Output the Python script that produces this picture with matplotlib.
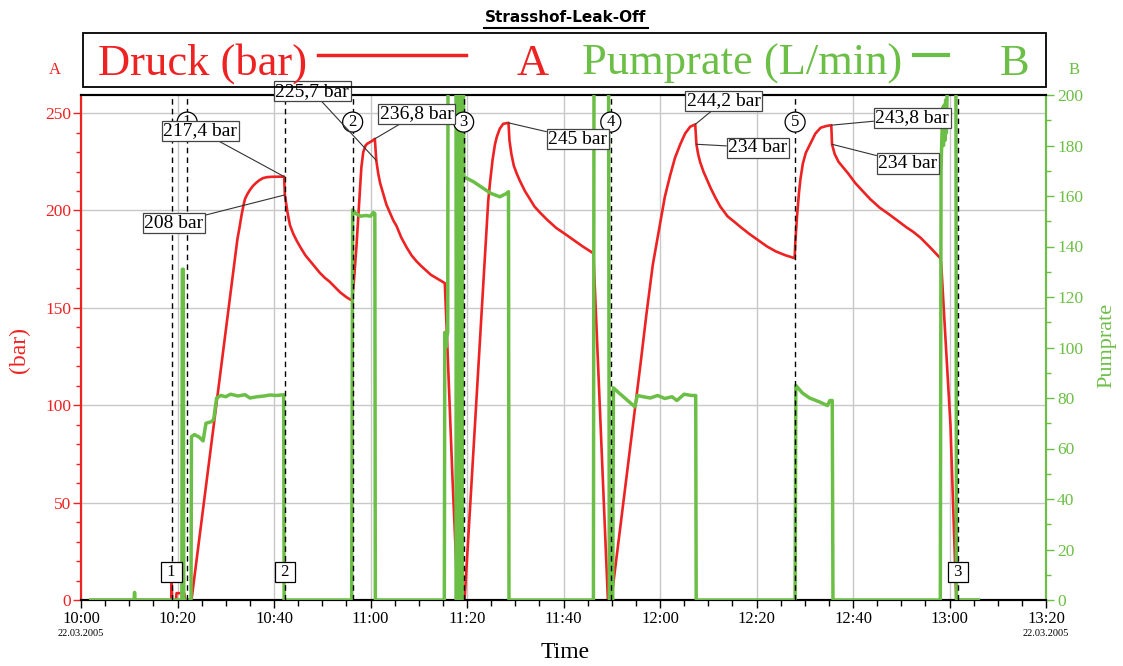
import matplotlib
matplotlib.use("Agg")
import matplotlib.pyplot as plt
from matplotlib.ticker import MultipleLocator, FuncFormatter
from matplotlib.patches import Rectangle
from matplotlib.lines import Line2D

# ---------------------------------------------------------------- data
# time in minutes after 10:00 on 22.03.2005
druck_t = [2, 18.7, 18.8, 18.9, 19.7, 19.8, 21.4, 21.6, 22.9,
           32.4, 32.9, 33.3, 33.7, 34.0, 34.5, 35.0, 35.6, 36.2, 37.0, 37.7,
           38.5, 39.5, 42.1,
           42.25, 42.8, 43.3, 44.0, 44.7, 45.5, 46.5, 47.5, 48.5, 49.5, 50.5,
           51.5, 52.5, 53.7, 55.0, 56.0,
           56.2, 56.6, 57.1, 57.5, 57.8, 58.1, 58.5, 59.0, 59.4, 60.2, 60.9,
           61.2, 61.6, 62.0, 62.7, 63.3, 64.0, 64.7, 65.4, 66.4, 67.5, 68.5,
           69.5, 70.5, 71.6, 72.5, 73.5, 74.5, 75.4,
           75.8, 77.0, 78.0, 78.2, 79.5,
           84.4, 84.8, 85.3, 85.8, 86.2, 86.8, 87.5, 88.6,
           88.8, 89.2, 89.7, 90.3, 91.0, 92.0, 93.0, 94.0, 95.1, 96.5, 98.5,
           100.0, 102.0, 104.0, 106.2,
           109.2, 109.9, 112.0, 114.0, 116.0, 117.2, 118.5, 120.0, 121.0,
           122.1, 123.1, 124.2, 125.2, 126.25, 127.3,
           127.55, 127.9, 128.3, 129.0, 129.7, 130.5, 131.5, 132.5, 134.0,
           135.5, 136.7, 138.5, 140.5, 142.2, 144.0, 146.0, 147.9,
           148.05, 148.4, 148.8, 149.1, 149.6, 150.2, 151.2, 152.2, 153.3,
           154.5, 155.5,
           155.65, 156.2, 157.0, 158.0, 159.0, 160.5, 162.0, 163.5, 165.5,
           167.5, 169.1, 171.0, 172.5, 174.0, 176.0, 178.1,
           178.3, 178.8, 180.2, 181.4, 186]
druck_bar = [0, 0, 9, 0, 0, 3.5, 3.5, 0, 0,
             185, 192, 198, 203, 206, 208.5, 210.5, 212.5, 214, 215.6, 216.6,
             217.1, 217.3, 217.4,
             208, 199, 192.5, 188, 184.5, 181, 177, 174, 171, 168, 165.5,
             163.5, 161, 158, 155.5, 154,
             154, 165, 182, 198, 210, 222, 230, 233.5, 234.4, 235.5, 236.8,
             225.7, 219, 214, 208, 203, 199, 195, 192, 186, 181, 177,
             174, 171.5, 169, 167, 165.5, 164, 162.7,
             138.6, 62, 5, 0, 0,
             205, 215, 226, 234, 238, 242, 244.5, 245,
             236, 229, 223, 219, 215, 210, 206, 202, 199, 195.5, 191,
             188.5, 185, 181.5, 178,
             0, 0, 42, 82, 122, 147, 172, 193, 207,
             218, 227, 234, 239.5, 243, 244.2,
             234, 229, 225, 220, 216, 211.5, 206.5, 202, 197,
             194, 191.5, 188, 184.5, 181.5, 179, 177, 175.5,
             184, 197, 209, 216, 224, 229.5, 234.5, 239.5, 242.5,
             243.4, 243.8,
             234, 229, 225, 222, 219, 214, 210, 206, 201.5,
             198, 195, 191.5, 189, 186, 181, 175.5,
             172, 150, 90, 0, 0]

pump_t = [2, 11.0, 11.1, 11.2, 20.9, 21.0, 21.2, 21.3, 22.8, 22.9, 23.5, 24.5,
          25.3, 25.9, 27.0, 27.5, 28.1, 29.0, 30.0, 31.0, 32.5, 34.0, 35.0,
          36.5, 38.0, 39.2, 40.5, 42.0, 42.1, 56.1, 56.3, 57.0, 58.0, 59.0,
          60.0, 60.6, 60.9, 61.0, 75.3, 75.4, 75.6, 75.8, 76.0, 76.1, 77.7,
          77.8, 77.95, 78.1, 78.25, 78.4, 78.55, 78.7, 78.85, 79.0, 79.15,
          79.35, 81.3, 83.4, 85.0, 86.8, 88.2, 88.6, 88.7, 106.2, 106.35,
          109.3, 109.5, 110.2, 110.35, 111.5, 113.0, 114.8, 115.3, 116.5,
          118.0, 119.5, 121.0, 122.5, 123.5, 125.0, 126.5, 127.4, 127.5,
          148.0, 148.15, 149.5, 151.0, 153.0, 154.7, 155.2, 155.7, 155.85,
          178.1, 178.25, 178.4, 178.6, 178.75, 178.9, 179.05, 179.2, 179.35,
          179.5, 179.6, 181.3, 181.45, 186]
pump_lpm = [0, 0, 3, 0, 0, 131, 131, 0, 0, 64.7, 65.5, 64.5,
            63, 70, 70.6, 71.5, 80, 81, 80.5, 81.5, 80.8, 81.3, 80,
            80.5, 80.8, 81.2, 81, 81.3, 0, 0, 154.5, 153, 152, 152.3,
            152, 153.5, 153, 0, 0, 106, 100, 104, 106, 260, 260,
            0, 260, 0, 260, 0, 260, 0, 260, 0, 260,
            167.6, 165.7, 163, 161, 159.7, 161, 161.7, 0, 0, 260,
            260, 0, 0, 84, 82, 79.5, 76.5, 81, 80.5,
            80, 81, 79.8, 80.5, 79, 81.5, 81, 81, 0,
            0, 85, 82, 80, 78.5, 77, 79, 79, 0,
            0, 170, 182, 195, 180, 196, 182, 198, 185,
            200, 260, 260, 0, 0]

# event markers
event_t = [18.8, 22.0, 42.3, 56.3, 79.3, 109.8, 148.0, 181.8]
circle_t = [22.0, 56.3, 79.3, 109.8, 148.0]
circle_labels = ["1", "2", "3", "4", "5"]
box_t = [18.8, 42.3, 181.8]
box_labels = ["1", "2", "3"]

# pressure readings called out on the curve
note_t = [42.1, 42.25, 61.2, 60.9, 88.6, 127.3, 127.55, 155.5, 155.65]
note_bar = [217.4, 208, 225.7, 236.8, 245, 244.2, 234, 243.8, 234]

# ---------------------------------------------------------------- style
RED = "#ee2222"
GREEN = "#6cbf46"
SERIF = ["Liberation Serif", "DejaVu Serif"]
plt.rcParams["font.family"] = SERIF

W, H = 1123, 666
fig = plt.figure(figsize=(W / 100, H / 100), dpi=100)


def fx(px):
    return px / W


def fy(py):
    return 1 - py / H


ax = fig.add_axes([fx(81), fy(600), fx(1046) - fx(81), fy(95) - fy(600)])
ax2 = ax.twinx()

ax.set_xlim(0, 200)
ax.set_ylim(0, 259.3)
ax2.set_ylim(0, 200)

# curves
ax.plot(druck_t, druck_bar, color=RED, lw=1.9, zorder=3, solid_joinstyle="round")
ax2.plot(pump_t, pump_lpm, color=GREEN, lw=2.5, zorder=3, solid_joinstyle="round")

# grid
ax.grid(True, which="major", color="#c8c8c8", lw=1.0)
ax.set_axisbelow(True)


def hhmm(m, pos=None):
    total = 600 + int(round(m))
    return f"{total // 60}:{total % 60:02d}"


ax.xaxis.set_major_locator(MultipleLocator(20))
ax.xaxis.set_minor_locator(MultipleLocator(5))
ax.xaxis.set_major_formatter(FuncFormatter(hhmm))
ax.yaxis.set_major_locator(MultipleLocator(50))
ax.yaxis.set_minor_locator(MultipleLocator(10))
ax2.yaxis.set_major_locator(MultipleLocator(20))
ax2.yaxis.set_minor_locator(MultipleLocator(10))

ax.tick_params(axis="x", which="major", direction="out", length=6, width=1,
               labelsize=12, pad=2, colors="black")
ax.tick_params(axis="x", which="minor", direction="out", length=4, width=1)
ax.tick_params(axis="y", which="major", direction="out", length=6, width=1,
               labelsize=12.5, pad=1, colors=RED)
ax.tick_params(axis="y", which="minor", direction="out", length=3.5, width=1,
               colors=RED)
ax2.tick_params(axis="y", which="major", direction="out", length=6, width=1,
                labelsize=12.5, pad=2, colors=GREEN)
ax2.tick_params(axis="y", which="minor", direction="out", length=3.5, width=1,
                colors=GREEN)

for a in (ax, ax2):
    a.spines["left"].set_color(RED)
    a.spines["right"].set_color(GREEN)
    a.spines["bottom"].set_color("black")
    a.spines["top"].set_color("black")
    for s in a.spines.values():
        s.set_linewidth(1.5)

# event markers
for t in event_t:
    ax2.axvline(t, color="black", lw=1.0, ls=(0, (4, 3)), zorder=5)

for t, lab in zip(circle_t, circle_labels):
    ax2.text(t, 245.4, lab, transform=ax.transData, ha="center", va="center",
             fontsize=12, zorder=7,
             bbox=dict(boxstyle="circle,pad=0.12", fc="white", ec="black", lw=0.9))

for t, lab in zip(box_t, box_labels):
    ax2.text(t, 14.4, f" {lab} ", transform=ax.transData, ha="center",
             va="center", fontsize=12, zorder=7,
             bbox=dict(boxstyle="square,pad=0.12", fc="white", ec="black", lw=0.9))

# callouts
note_pos = [(24.7, 240.8), (19.2, 193.5), (47.9, 261.3), (69.6, 249.5),
            (103.0, 236.7), (133.2, 256.2), (140.3, 232.3), (172.3, 247.7),
            (171.4, 224.1)]
for t, v, (tx, ty) in zip(note_t, note_bar, note_pos):
    txt = f"{v:g}".replace(".", ",") + " bar"
    ax2.annotate(txt, xy=(t, v), xycoords=ax.transData,
                 xytext=(tx, ty), textcoords=ax.transData,
                 ha="center", va="center", fontsize=14, zorder=8,
                 annotation_clip=False,
                 bbox=dict(boxstyle="square,pad=0.08", fc="white", ec="#444444", lw=0.9),
                 arrowprops=dict(arrowstyle="-", color="#333333", lw=0.8,
                                 shrinkA=0, shrinkB=0))

# ---------------------------------------------------------------- frame texts
fig.text(fx(566), fy(18), "Strasshof-Leak-Off", ha="center", va="center",
         fontsize=11, fontweight="bold",
         family=["Liberation Sans Narrow", "DejaVu Sans"])
fig.add_artist(Line2D([fx(484), fx(648)], [fy(28), fy(28)], color="black", lw=1.5))

# legend panel
fig.add_artist(Rectangle((fx(83), fy(87)), fx(1046) - fx(83), fy(33) - fy(87),
                         fill=False, ec="black", lw=1.3))
fig.text(fx(98), fy(75), "Druck (bar)", color=RED, fontsize=32, ha="left",
         va="baseline")
fig.add_artist(Line2D([fx(318), fx(466)], [fy(55), fy(55)], color=RED, lw=2.5))
fig.text(fx(533), fy(75), "A", color=RED, fontsize=32, ha="center", va="baseline")
fig.text(fx(582), fy(75), "Pumprate (L/min)", color=GREEN, fontsize=32,
         ha="left", va="baseline")
fig.add_artist(Line2D([fx(914), fx(948)], [fy(55), fy(55)], color=GREEN, lw=3))
fig.text(fx(1015), fy(75), "B", color=GREEN, fontsize=32, ha="center",
         va="baseline")

fig.text(fx(55), fy(70), "A", color=RED, fontsize=12, ha="center", va="center")
fig.text(fx(1074), fy(70), "B", color=GREEN, fontsize=12, ha="center", va="center")

fig.text(fx(19), fy(350), "(bar)", color=RED, fontsize=17, rotation=90,
         ha="center", va="center")
fig.text(fx(1107), fy(345), "Pumprate", color=GREEN, fontsize=16, rotation=90,
         ha="center", va="center")
fig.text(fx(565), fy(652), "Time", color="black", fontsize=17, ha="center",
         va="center")
for px in (81, 1046):
    fig.text(fx(px), fy(634), "22.03.2005", fontsize=7.5, ha="center",
             va="center")

fig.savefig("out.png", dpi=100)
